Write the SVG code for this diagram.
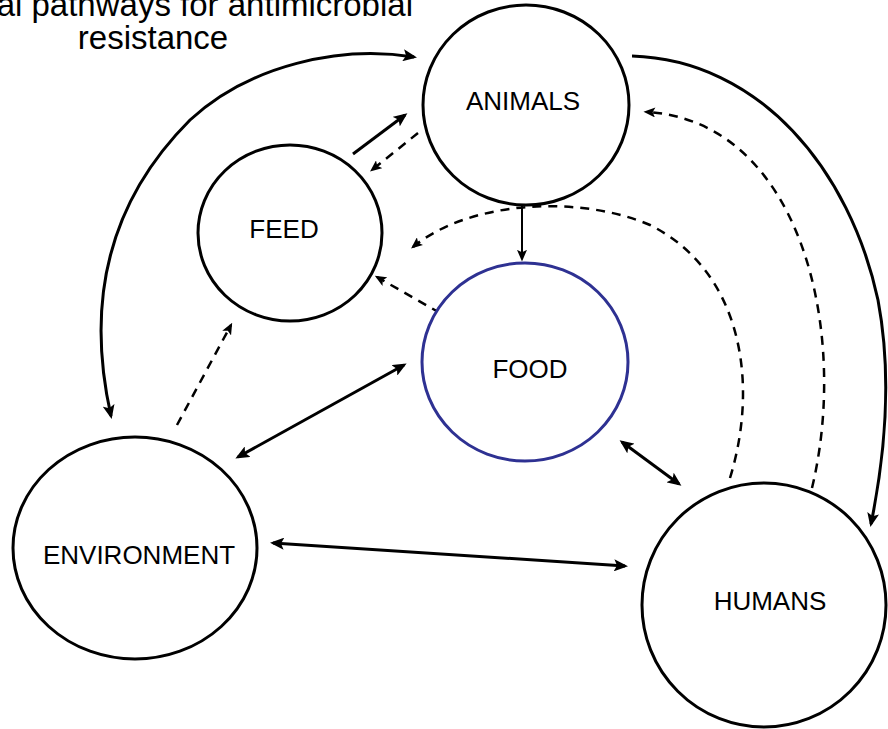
<svg xmlns="http://www.w3.org/2000/svg" width="888" height="729" viewBox="0 0 888 729">
<style>
  .node { fill: #ffffff; stroke: #000000; stroke-width: 3; }
  .food { fill: #ffffff; stroke: #2e3192; stroke-width: 3; }
  .label { font-family: "Liberation Sans", Arial, sans-serif; font-size: 26px; fill: #000000; text-anchor: middle; }
  .title { font-family: "Liberation Sans", Arial, sans-serif; font-size: 33px; fill: #000000; }
  .solid { fill: none; stroke: #000000; stroke-width: 3; }
  .thin { fill: none; stroke: #000000; stroke-width: 2; }
  .dash { fill: none; stroke: #000000; stroke-width: 2.5; stroke-dasharray: 9 7; }
</style>
<defs>
  <marker id="ah" viewBox="0 0 14 12" refX="11" refY="6" markerWidth="14" markerHeight="12" markerUnits="userSpaceOnUse" orient="auto-start-reverse">
    <path d="M0,0 L14,6 L0,12 L3,6 Z" fill="#000000"/>
  </marker>
  <marker id="ahs" viewBox="0 0 14 12" refX="11" refY="6" markerWidth="12" markerHeight="10" markerUnits="userSpaceOnUse" orient="auto-start-reverse">
    <path d="M0,0 L14,6 L0,12 L3,6 Z" fill="#000000"/>
  </marker>
</defs>
<rect width="888" height="729" fill="#ffffff"/>
<g id="title">
  <text class="title" x="413" y="16" text-anchor="end">al pathways for antimicrobial</text>
  <text class="title" x="153" y="49" text-anchor="middle">resistance</text>
</g>
<g id="connectors">
  <path class="solid" d="M111,416 C85,300 110,200 190,120 C250,65 340,45 414,57" marker-start="url(#ah)" marker-end="url(#ah)"/>
  <path class="solid" d="M632,56 C760,60 850,170 878,300 C893,380 884,460 871,524" marker-end="url(#ah)"/>
  <path class="dash" d="M812,488 C850,330 800,120 646,112" marker-end="url(#ahs)"/>
  <path class="dash" d="M730,478 C760,380 740,270 650,225 C580,195 470,200 413,247" marker-end="url(#ahs)"/>
  <path class="thin" d="M522,206 L522,259" marker-end="url(#ahs)"/>
  <path class="solid" d="M353,154 L405,115" marker-end="url(#ah)"/>
  <path class="dash" d="M418,133 L372,170" marker-end="url(#ahs)"/>
  <path class="dash" d="M440,313 L377,277" marker-end="url(#ahs)"/>
  <path class="dash" d="M177,425 L231,325" marker-end="url(#ahs)"/>
  <path class="solid" d="M238,457 L404,365" marker-start="url(#ah)" marker-end="url(#ah)"/>
  <path class="solid" d="M622,442 L679,484" marker-start="url(#ah)" marker-end="url(#ah)"/>
  <path class="solid" d="M273,543 L625,566" marker-start="url(#ah)" marker-end="url(#ah)"/>
</g>
<g id="animals">
  <ellipse class="node" cx="526" cy="105" rx="103" ry="100"/>
  <text class="label" x="523" y="110">ANIMALS</text>
</g>
<g id="feed">
  <ellipse class="node" cx="290" cy="233" rx="92" ry="88"/>
  <text class="label" x="284" y="238">FEED</text>
</g>
<g id="food">
  <ellipse class="food" cx="525" cy="362" rx="103" ry="99"/>
  <text class="label" x="530" y="378">FOOD</text>
</g>
<g id="environment">
  <ellipse class="node" cx="135" cy="548" rx="122" ry="111"/>
  <text class="label" x="139" y="564">ENVIRONMENT</text>
</g>
<g id="humans">
  <ellipse class="node" cx="764" cy="605" rx="122" ry="122"/>
  <text class="label" x="770" y="610">HUMANS</text>
</g>
</svg>
